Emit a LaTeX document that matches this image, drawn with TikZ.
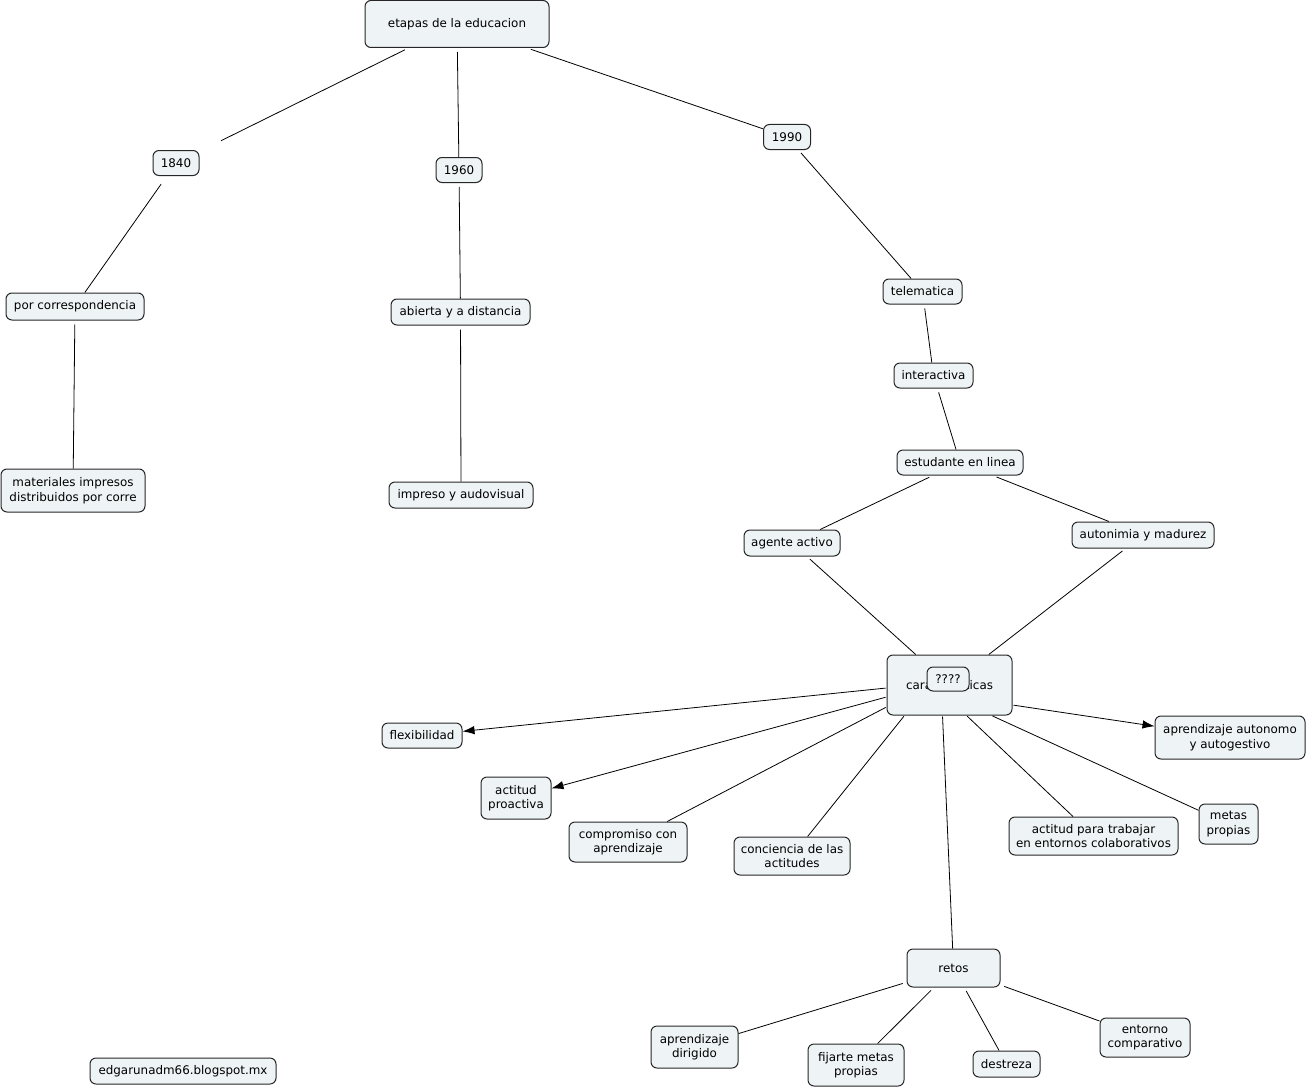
\documentclass[tikz,border=0pt]{standalone}
\usepackage{fontspec}
\setmainfont{DejaVu Sans}
\usetikzlibrary{arrows,arrows.meta,positioning}
\definecolor{cmapfill}{HTML}{EEF3F5}

\begin{document}
\begin{tikzpicture}[x=1pt,y=-1pt,>={Latex[length=12pt,width=8.5pt]},
                    shorten <=4pt,line width=0.8pt]
\tikzstyle{concepto}=[rectangle,rounded corners=6pt,draw=black!85,fill=cmapfill,line width=1pt,
                      align=center,inner sep=0pt,font=\fontsize{11.9}{14.5}\selectfont]
\tikzstyle{borde}=[shorten <=1pt]
\useasboundingbox (0,0) rectangle (1308,1089);
\node[concepto,minimum width=184pt,minimum height=47pt] (etapas) at (457,24) {etapas de la educacion};
\node[concepto,minimum width=46pt,minimum height=25pt] (n1840) at (176,163) {1840};
\node[concepto,minimum width=46pt,minimum height=25pt] (n1960) at (459,170) {1960};
\node[concepto,minimum width=47pt,minimum height=25pt] (n1990) at (787,137) {1990};
\node[concepto,minimum width=138pt,minimum height=27pt] (corresp) at (75,306.5) {por correspondencia};
\node[concepto,minimum width=139pt,minimum height=26pt] (abierta) at (460.5,312) {abierta y a distancia};
\node[concepto,minimum width=79pt,minimum height=25pt] (telematica) at (922.5,291.5) {telematica};
\node[concepto,minimum width=79pt,minimum height=25pt] (interactiva) at (933.5,375.5) {interactiva};
\node[concepto,minimum width=126pt,minimum height=25pt] (estudante) at (960,462.5) {estudante en linea};
\node[concepto,minimum width=144pt,minimum height=43pt] (materiales) at (73,490.5) {materiales impresos\\distribuidos por corre};
\node[concepto,minimum width=144pt,minimum height=26pt] (impreso) at (461,495) {impreso y audovisual};
\node[concepto,minimum width=96pt,minimum height=26pt] (agente) at (792,543) {agente activo};
\node[concepto,minimum width=142pt,minimum height=26pt] (autonimia) at (1143,535) {autonimia y madurez};
\node[concepto,minimum width=125pt,minimum height=60pt] (caract) at (949.5,685) {caracteristicas};
\node[concepto,minimum width=42pt,minimum height=24pt] (signos) at (948,679) {????};
\node[concepto,minimum width=80pt,minimum height=25pt] (flexib) at (422,735.5) {flexibilidad};
\node[concepto,minimum width=70pt,minimum height=42pt] (proactiva) at (516,798) {actitud\\proactiva};
\node[concepto,minimum width=150pt,minimum height=43pt] (autonomo) at (1230,737.5) {aprendizaje autonomo\\y autogestivo};
\node[concepto,minimum width=118pt,minimum height=40pt] (compromiso) at (628,842) {compromiso con\\aprendizaje};
\node[concepto,minimum width=116pt,minimum height=38pt] (conciencia) at (792,856) {conciencia de las\\actitudes};
\node[concepto,minimum width=169pt,minimum height=38pt] (colabor) at (1093.5,836) {actitud para trabajar\\en entornos colaborativos};
\node[concepto,minimum width=59pt,minimum height=40pt] (metas) at (1228.5,824) {metas\\propias};
\node[concepto,minimum width=93pt,minimum height=38pt] (retos) at (953.5,968) {retos};
\node[concepto,minimum width=87pt,minimum height=42pt] (dirigido) at (694.5,1047) {aprendizaje\\dirigido};
\node[concepto,minimum width=96pt,minimum height=42pt] (fijarte) at (856,1065) {fijarte metas\\propias};
\node[concepto,minimum width=67pt,minimum height=26pt] (destreza) at (1006.5,1064) {destreza};
\node[concepto,minimum width=90pt,minimum height=39pt] (entorno) at (1145,1037.5) {entorno\\comparativo};
\node[concepto,minimum width=186pt,minimum height=26pt] (blog) at (183,1071) {edgarunadm66.blogspot.mx};
% enlaces
\draw[shorten >=24pt] (etapas) -- (n1840);
\draw (etapas) -- (n1960);
\draw (etapas) -- (n1990);
\draw[shorten <=10pt] (n1840) -- (corresp);
\draw (n1960) -- (abierta);
\draw (n1990) -- (telematica);
\draw (corresp) -- (materiales);
\draw (abierta) -- (impreso);
\draw (telematica) -- (interactiva);
\draw (interactiva) -- (estudante);
\draw (estudante) -- (agente);
\draw (estudante) -- (autonimia);
\draw (agente) -- (caract);
\draw (autonimia) -- (caract);
% desde caracteristicas
\draw[->,borde] ([yshift=-3pt]caract.west) -- (flexib);
\draw[->,borde] ([yshift=-12pt]caract.west) -- (proactiva);
\draw[borde] ([yshift=-22pt]caract.west) -- (compromiso);
\draw[borde] ([xshift=-45pt]caract.south) -- (conciencia);
\draw[borde] ([xshift=-7pt]caract.south) -- (retos);
\draw[borde] ([xshift=17pt]caract.south) -- (colabor);
\draw[borde] ([xshift=42pt]caract.south) -- (metas);
\draw[->,borde] ([yshift=-20pt]caract.east) -- (autonomo);
% desde retos
\draw (retos) -- (dirigido);
\draw (retos) -- (fijarte);
\draw (retos) -- (destreza);
\draw (retos) -- (entorno);
\end{tikzpicture}
\end{document}
